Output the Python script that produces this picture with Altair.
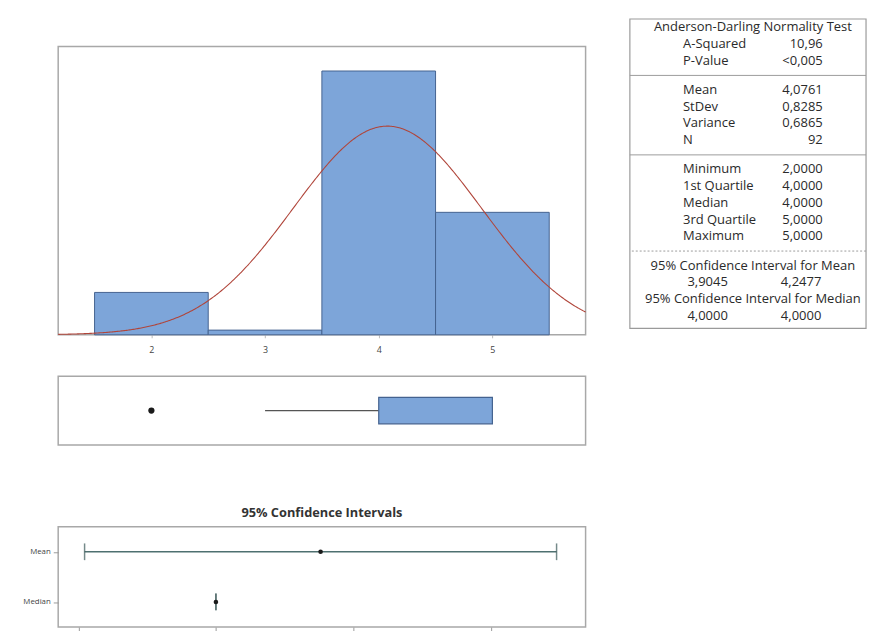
import altair as alt
import pandas as pd

# ---------------- data ----------------
bin_centers = [2, 3, 4, 5]
bin_counts = [9, 1, 56, 26]
n_obs = 92
fit_mean = 4.0761
fit_sd = 0.8285

box_q1 = 4.0
box_median = 4.0
box_q3 = 5.0
whisker_low = 3.0
whisker_high = 5.0
outliers = [2.0]

ci_labels = ["Mean", "Median"]
ci_center = [4.0761, 4.0]
ci_low = [3.9045, 4.0]
ci_high = [4.2477, 4.0]
ci_ticks = [3.9, 4.0, 4.1, 4.2]

table_title = "Anderson-Darling Normality Test"
ad_rows = [("A-Squared", "10,96"), ("P-Value", "<0,005")]
moment_rows = [("Mean", "4,0761"), ("StDev", "0,8285"), ("Variance", "0,6865"), ("N", "92")]
quant_rows = [("Minimum", "2,0000"), ("1st Quartile", "4,0000"), ("Median", "4,0000"),
              ("3rd Quartile", "5,0000"), ("Maximum", "5,0000")]
ci_mean_title = "95% Confidence Interval for Mean"
ci_mean_vals = ["3,9045", "4,2477"]
ci_median_title = "95% Confidence Interval for Median"
ci_median_vals = ["4,0000", "4,0000"]

# ---------------- styles ----------------
FONT = "Open Sans"
BAR_FILL = "#7DA5D9"
BAR_STROKE = "#44628F"
FRAME = "#A8A8A8"
PLOT_W = 536
LEFT_EXT = 50

hidden_y = alt.Axis(labels=False, ticks=False, domain=False, grid=False, title=None,
                    minExtent=LEFT_EXT, maxExtent=LEFT_EXT)

# ---------------- histogram ----------------
hist_df = pd.DataFrame({"center": bin_centers, "count": bin_counts})
x_hist = alt.Scale(domain=[1.18, 5.82], nice=False, zero=False)
y_hist = alt.Scale(domain=[0, 61.2], nice=False)

bars = alt.Chart(hist_df).transform_calculate(
    lo="datum.center - 0.5", hi="datum.center + 0.5"
).mark_rect(fill=BAR_FILL, stroke=BAR_STROKE, strokeWidth=1, opacity=1).encode(
    x=alt.X("lo:Q", scale=x_hist,
            axis=alt.Axis(values=bin_centers, format="d", title=None, grid=False, domain=False,
                          tickSize=3, tickColor="#BBBBBB", labelFontSize=9, labelColor="#444444",
                          labelPadding=8, labelFont=FONT)),
    x2="hi:Q",
    y=alt.Y("count:Q", scale=y_hist, axis=hidden_y),
    y2=alt.datum(0),
)

curve_expr = (f"{n_obs} * exp(-0.5 * pow((datum.x - {fit_mean}) / {fit_sd}, 2))"
              f" / ({fit_sd} * sqrt(2 * PI))")
curve = alt.Chart(alt.sequence(1.18, 5.83, 0.01, as_="x")).transform_calculate(
    dens=curve_expr
).mark_line(color="#B0453A", strokeWidth=1.1).encode(
    x=alt.X("x:Q", scale=x_hist),
    y=alt.Y("dens:Q", scale=y_hist),
)

hist = alt.layer(bars, curve).properties(width=PLOT_W, height=293)

# ---------------- boxplot ----------------
box_df = pd.DataFrame({"grp": ["a"], "q1": [box_q1], "q3": [box_q3], "med": [box_median],
                       "wlo": [whisker_low], "whi": [whisker_high]})
out_df = pd.DataFrame({"grp": ["a"] * len(outliers), "v": outliers})
x_box = alt.Scale(domain=[1.18, 5.82], nice=False, zero=False)
y_box = alt.Y("grp:N", scale=alt.Scale(paddingOuter=0.8, paddingInner=0), axis=hidden_y)

whisk = alt.Chart(box_df).mark_rule(color="#555555", strokeWidth=1.2).encode(
    x=alt.X("wlo:Q", scale=x_box, axis=None), x2="q1:Q", y=y_box)
whisk_hi = alt.Chart(box_df).mark_rule(color="#555555", strokeWidth=1.2).encode(
    x=alt.X("q3:Q", scale=x_box, axis=None), x2="whi:Q", y=y_box)
box = alt.Chart(box_df).mark_bar(fill=BAR_FILL, stroke=BAR_STROKE, strokeWidth=1.2).encode(
    x=alt.X("q1:Q", scale=x_box, axis=None), x2="q3:Q", y=y_box)
outl = alt.Chart(out_df).mark_point(filled=True, color="#1a1a1a", size=40, opacity=1).encode(
    x=alt.X("v:Q", scale=x_box, axis=None), y=y_box)

boxplot = alt.layer(whisk, whisk_hi, box, outl).properties(width=PLOT_W, height=70)

# ---------------- confidence intervals ----------------
ci_df = pd.DataFrame({"stat": ci_labels, "center": ci_center, "lo": ci_low, "hi": ci_high})
x_ci = alt.Scale(domain=[3.8853, 4.2688], nice=False, zero=False)
y_ci = alt.Y("stat:N", scale=alt.Scale(domain=ci_labels, type="point", padding=0.5),
             axis=alt.Axis(title=None, labelFontSize=8, labelColor="#444444", labelFont=FONT,
                           tickSize=5, tickColor="#999999", domain=False, grid=False,
                           minExtent=LEFT_EXT, maxExtent=LEFT_EXT, labelPadding=3))

ci_line = alt.Chart(ci_df).mark_rule(color="#4E7070", strokeWidth=1.5).encode(
    x=alt.X("lo:Q", scale=x_ci,
            axis=alt.Axis(values=ci_ticks, title=None, grid=False, domain=False, tickSize=6,
                          tickColor="#999999", labels=False)),
    x2="hi:Q", y=y_ci)
ci_caps = alt.Chart(ci_df).transform_fold(["lo", "hi"], as_=["end", "val"]).mark_tick(
    orient="vertical", color="#3A5858", size=17, thickness=1.5).encode(
    x=alt.X("val:Q", scale=x_ci), y=y_ci)
ci_dot = alt.Chart(ci_df).mark_point(filled=True, color="#1a1a1a", size=22, opacity=1).encode(
    x=alt.X("center:Q", scale=x_ci), y=y_ci)

ci_chart = alt.layer(ci_line, ci_caps, ci_dot).properties(
    width=PLOT_W, height=102,
    title=alt.TitleParams("95% Confidence Intervals", fontSize=13, fontWeight="bold",
                          font=FONT, color="#333333", offset=7, anchor="middle"),
)

left = alt.vconcat(hist, boxplot, spacing=20)
left = alt.vconcat(left, ci_chart, spacing=61)

# ---------------- statistics table ----------------
UNIT = 17
TABLE_RISE = 28  # table frame starts this many px above the histogram frame
pos = 0.0
header_rows, pair_rows, dual_rows, solid_seps, dotted_seps = [], [], [], [], []

def text_row():
    global pos
    s = pos + 0.5
    pos += 1
    return s

header_rows.append({"slot": text_row(), "text": table_title})
for lab, val in ad_rows:
    pair_rows.append({"slot": text_row(), "label": lab, "value": val})
solid_seps.append({"slot": pos + 0.375}); pos += 0.75
for lab, val in moment_rows:
    pair_rows.append({"slot": text_row(), "label": lab, "value": val})
solid_seps.append({"slot": pos + 0.375}); pos += 0.75
for lab, val in quant_rows:
    pair_rows.append({"slot": text_row(), "label": lab, "value": val})
dotted_seps.append({"slot": pos + 0.375}); pos += 0.75
header_rows.append({"slot": text_row(), "text": ci_mean_title})
dual_rows.append({"slot": text_row(), "a": ci_mean_vals[0], "b": ci_mean_vals[1]})
header_rows.append({"slot": text_row(), "text": ci_median_title})
dual_rows.append({"slot": text_row(), "a": ci_median_vals[0], "b": ci_median_vals[1]})
pos += 0.25

TBL_W = 240
tbl_h = round(pos * UNIT) - TABLE_RISE
slot_top = TABLE_RISE / UNIT
y_tbl = alt.Scale(domain=[slot_top, slot_top + tbl_h / UNIT], reverse=True, nice=False, zero=False)
yt = alt.Y("slot:Q", scale=y_tbl, axis=None)
TXT = dict(font=FONT, fontSize=13.2, color="#2A2A2A", baseline="middle")

frame_df = pd.DataFrame({"top": [0.0], "bottom": [pos]})
t_frame = alt.Chart(frame_df).mark_rect(fill="white", stroke="#9A9A9A", strokeWidth=1.2).encode(
    x=alt.value(0), x2=alt.value(TBL_W),
    y=alt.Y("top:Q", scale=y_tbl, axis=None), y2="bottom:Q")
t_head = alt.Chart(pd.DataFrame(header_rows)).mark_text(align="center", **TXT).encode(
    x=alt.value(125), y=yt, text="text:N")
t_lab = alt.Chart(pd.DataFrame(pair_rows)).mark_text(align="left", **TXT).encode(
    x=alt.value(54), y=yt, text="label:N")
t_val = alt.Chart(pd.DataFrame(pair_rows)).mark_text(align="right", **TXT).encode(
    x=alt.value(196), y=yt, text="value:N")
t_a = alt.Chart(pd.DataFrame(dual_rows)).mark_text(align="center", **TXT).encode(
    x=alt.value(79), y=yt, text="a:N")
t_b = alt.Chart(pd.DataFrame(dual_rows)).mark_text(align="center", **TXT).encode(
    x=alt.value(174), y=yt, text="b:N")
sep_solid = alt.Chart(pd.DataFrame(solid_seps)).mark_rule(color="#9A9A9A", strokeWidth=1).encode(y=yt)
sep_dot = alt.Chart(pd.DataFrame(dotted_seps)).mark_rule(
    color="#9A9A9A", strokeWidth=1, strokeDash=[2, 2]).encode(y=yt)

table = alt.layer(t_frame, sep_solid, sep_dot, t_head, t_lab, t_val, t_a, t_b).properties(
    width=TBL_W, height=tbl_h,
    view=alt.ViewBackground(stroke="transparent"),
)

chart = alt.hconcat(left, table, spacing=40).properties(
    padding={"left": 0, "top": 4, "right": 0, "bottom": 0},
    background="white",
).configure_view(
    stroke=FRAME, strokeWidth=1.5
).configure_axis(
    labelFont=FONT
)

chart.save("out.html", embed_options={"renderer": "svg", "actions": False})
